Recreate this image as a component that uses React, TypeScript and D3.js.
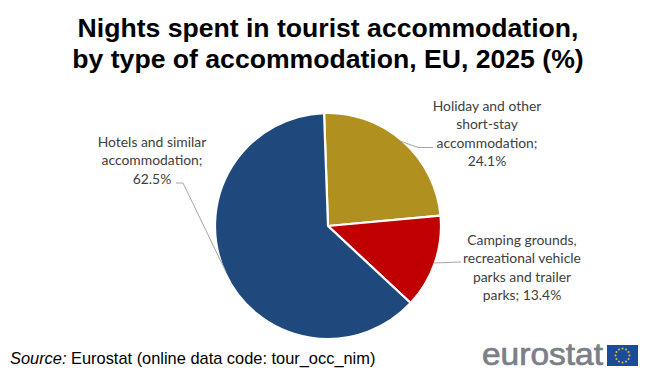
import React from "react";
import * as d3 from "d3";

const categories = ["Holiday and other short-stay accommodation", "Camping grounds, recreational vehicle parks and trailer parks", "Hotels and similar accommodation"];
const values = [24.1, 13.4, 62.5];
const colors = ["#B09120", "#C00000", "#1F497D"];
const titleLines = ["Nights spent in tourist accommodation,", "by type of accommodation, EU, 2025 (%)"];
const labelLines = [
  ["Holiday and other", "short-stay", "accommodation;", "24.1%"],
  ["Camping grounds,", "recreational vehicle", "parks and trailer", "parks; 13.4%"],
  ["Hotels and similar", "accommodation;", "62.5%"],
];
const labelPos: [number, number][] = [[487, 111], [522, 245], [152, 147]];
const leaders: [number, number][][] = [
  [[400, 141], [418, 147.5], [433, 147.5]],
  [[434, 263], [461, 262]],
  [[226, 272], [183, 183], [176, 183]],
];
const starAngles = d3.range(12).map((i) => (i * Math.PI) / 6);

export default function App() {
  const cx = 328, cy = 226, r = 113;
  const pie = d3.pie<number>().sort(null).startAngle(-2 * Math.PI / 180).endAngle(358 * Math.PI / 180);
  const arc = d3.arc<d3.PieArcDatum<number>>().innerRadius(0).outerRadius(r);
  const line = d3.line();
  const arcs = pie(values);
  return (
    <svg width={656} height={376} style={{ position: "absolute", left: 0, top: 0, background: "#fff" }}>
      {titleLines.map((t, i) => (
        <text key={i} x={328} y={37 + i * 31} textAnchor="middle" fontFamily="Liberation Sans" fontWeight="bold" fontSize={26.6} fill="#000">{t}</text>
      ))}
      <g transform={`translate(${cx},${cy})`}>
        {arcs.map((a, i) => (
          <path key={i} d={arc(a) ?? ""} fill={colors[i]} stroke="#fff" strokeWidth={2.2} strokeLinejoin="round"><title>{categories[i]}</title></path>
        ))}
      </g>
      {leaders.map((l, i) => (
        <path key={i} d={line(l) ?? ""} fill="none" stroke="#A6A6A6" strokeWidth={1} />
      ))}
      {labelLines.map((ls, i) => (
        <g key={i}>
          {ls.map((t, j) => (
            <text key={j} x={labelPos[i][0]} y={labelPos[i][1] + j * 18.3} textAnchor="middle" fontFamily="Lato" fontSize={13.9} fill="#404040">{t}</text>
          ))}
        </g>
      ))}
      <text x={10} y={364} fontFamily="Liberation Sans" fontSize={16.4} fill="#000"><tspan fontStyle="italic">Source:</tspan> Eurostat (online data code: tour_occ_nim)</text>
      <text x={482} y={364.5} fontFamily="Liberation Sans" fontSize={31} fill="#7B7F86" stroke="#7B7F86" strokeWidth={0.7} textLength={121} lengthAdjust="spacingAndGlyphs">eurostat</text>
      <rect x={607} y={345} width={31} height={21} fill="#1D4B9A" />
      {starAngles.map((a, i) => (
        <circle key={i} cx={622.5 + 7 * Math.sin(a)} cy={355.5 - 7 * Math.cos(a)} r={1} fill="#E8C21A" />
      ))}
    </svg>
  );
}
